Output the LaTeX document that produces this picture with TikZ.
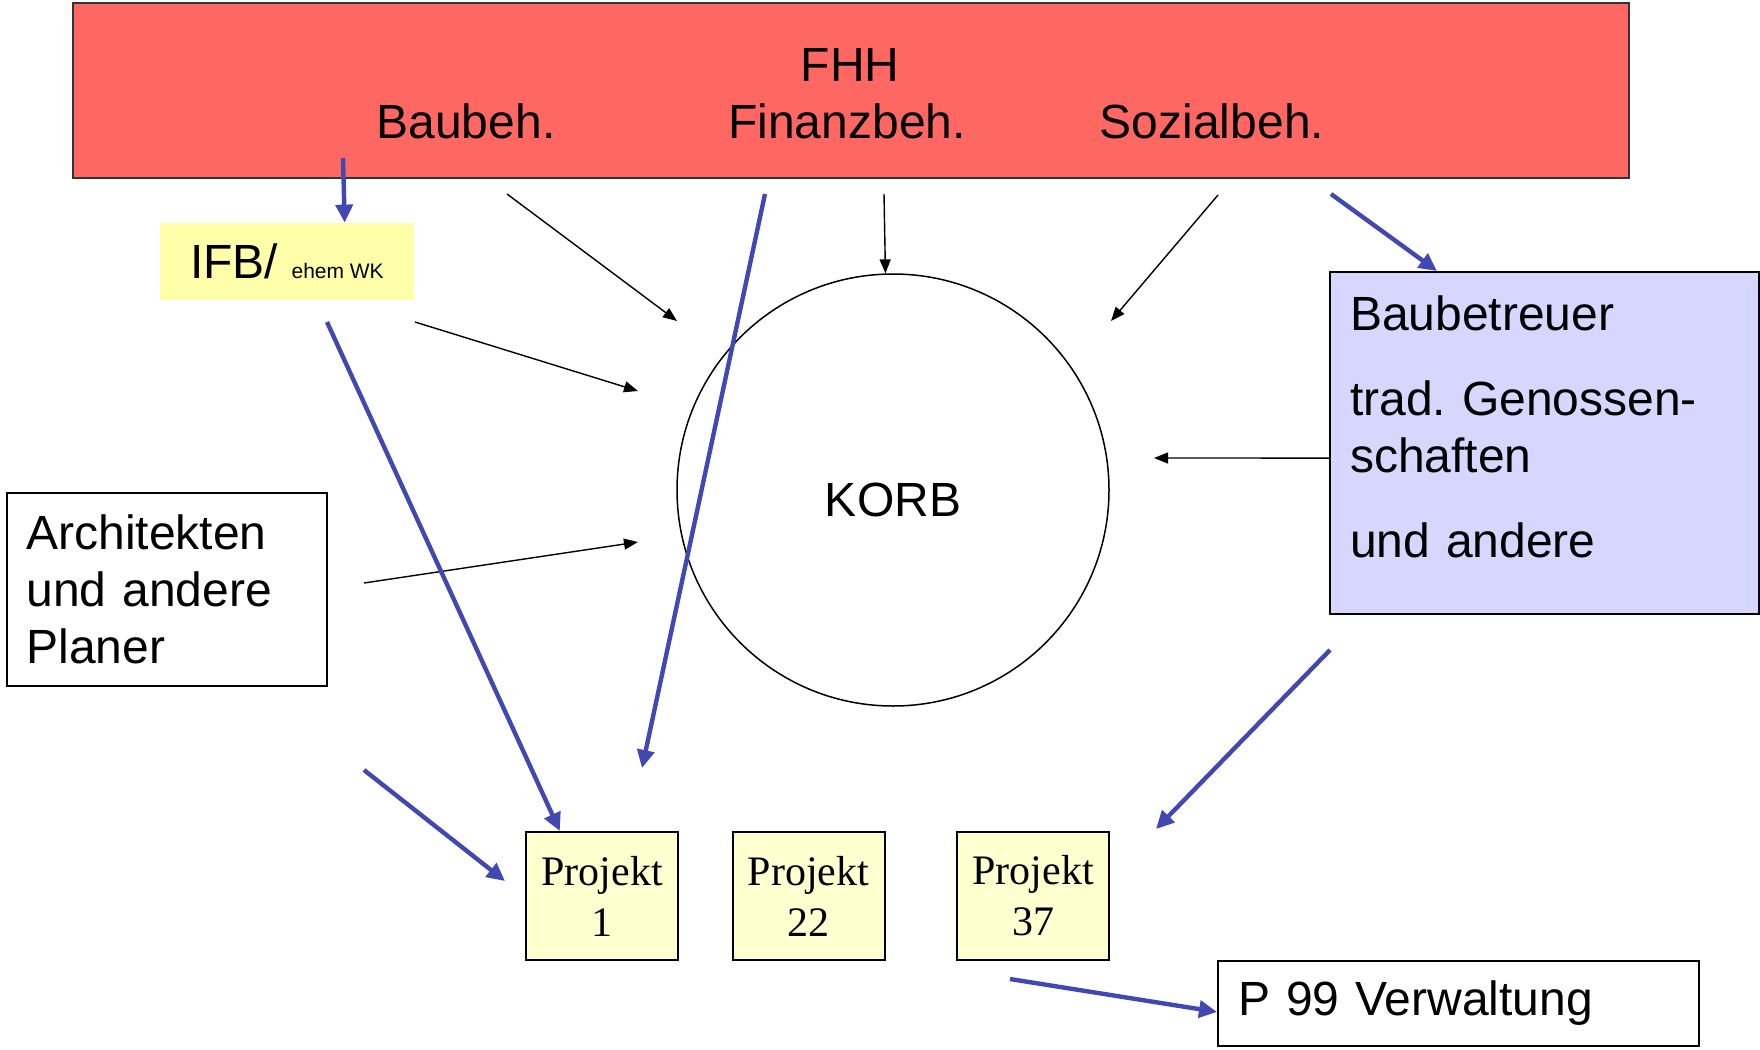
\documentclass[tikz,border=0pt]{standalone}
\usepackage{fontspec}
\setmainfont{Liberation Sans}
\newfontfamily\projfont{Liberation Serif}
\usetikzlibrary{arrows.meta}
\frenchspacing

\definecolor{fhhred}{RGB}{255,104,98}
\definecolor{ifbyellow}{RGB}{255,255,170}
\definecolor{projyellow}{RGB}{255,255,208}
\definecolor{btlilac}{RGB}{214,214,255}
\definecolor{flowblue}{RGB}{66,72,178}

\begin{document}
\begin{tikzpicture}[x=0.5pt, y=-0.5pt,
    every node/.style={font=\fontsize{24}{28.5}\selectfont},
    thinarrow/.style={draw=black, line width=0.7pt, -{Triangle[length=7pt,width=5.5pt]}},
    bluearrow/.style={draw=flowblue, line width=2.2pt, -{Triangle[length=9pt,width=8.5pt]}},
    projbox/.style={draw, line width=1pt, fill=projyellow, minimum width=76pt, minimum height=64pt, inner sep=0pt, align=center, font=\projfont\fontsize{21}{25.5}\selectfont},
    textbox/.style={draw, line width=1pt, align=left, inner xsep=10pt}]
    \useasboundingbox (0,0) rectangle (1760,1049);

    \node[draw=black!80, line width=1pt, fill=fhhred, minimum width=778pt, minimum height=87.5pt] (fhh) at (851,90.5) {};
    \node (fhhtitle) at (850,65) {FHH};
    \node (baubeh) at (466,121) {Baubeh.};
    \node (finanzbeh) at (847,121) {Finanzbeh.};
    \node (sozialbeh) at (1212,121) {Sozialbeh.};

    \node[fill=ifbyellow, minimum width=127pt, minimum height=38.5pt, inner sep=0pt] (ifb) at (287,261.5) {IFB/ {\fontsize{10.5}{12}\selectfont ehem WK}};
    \node[draw, circle, line width=0.75pt, minimum size=216pt, inner sep=0pt] (korb) at (893,490) {\raisebox{-5pt}[\height][\depth]{KORB}};
    \node[textbox, text width=140pt, minimum height=96.5pt] (architekten) at (166.5,589.5) {Architekten\\und andere\\Planer};
    \node[textbox, fill=btlilac, text width=194.5pt, minimum height=171pt] (baubetreuer) at (1544.5,443) {Baubetreuer\\[14pt]trad. Genossen-\\schaften\\[14pt]und andere\\[-12.5pt]\mbox{}};

    \node[projbox] (proj1) at (602,896) {Projekt\\1};
    \node[projbox] (proj22) at (808.5,896) {Projekt\\22};
    \node[projbox] (proj37) at (1033,896) {Projekt\\37};
    \node[textbox, text width=220.5pt, minimum height=42.5pt] (verwaltung) at (1458.5,1003.5) {P 99 Verwaltung};

    \coordinate (baubehout) at (507,194);
    \coordinate (korbnw) at (677,321);
    \coordinate (ifbout) at (415,322);
    \coordinate (korbw) at (638,391);
    \coordinate (finanzout) at (884,194);
    \coordinate (sozialout) at (1218,195);
    \coordinate (korbne) at (1111,321);
    \coordinate (archout) at (364,583);
    \coordinate (korbsw) at (638,542);
    \coordinate (korbe) at (1154,458);

    \coordinate (baubehdown) at (343,158);
    \coordinate (ifbdown) at (327,322);
    \coordinate (finanzdown) at (765,194);
    \coordinate (finanzend) at (642,768);
    \coordinate (planerout) at (364,770);
    \coordinate (proj1w) at (505,881);
    \coordinate (sozialdown) at (1331,194);
    \coordinate (btdown) at (1330,650);
    \coordinate (proj37ne) at (1156,829);
    \coordinate (proj37s) at (1010,979);

    \draw[thinarrow] (baubehout) -- (korbnw);
    \draw[thinarrow] (ifbout) -- (korbw);
    \draw[thinarrow] (finanzout) -- (korb.92);
    \draw[thinarrow] (sozialout) -- (korbne);
    \draw[thinarrow] (archout) -- (korbsw);
    \draw[thinarrow] (baubetreuer.184) -- (korbe);

    \draw[bluearrow] (baubehdown) -- (ifb.34);
    \draw[bluearrow] (ifbdown) -- (proj1.123);
    \draw[bluearrow] (finanzdown) -- (finanzend);
    \draw[bluearrow] (planerout) -- (proj1w);
    \draw[bluearrow] (sozialdown) -- (baubetreuer.122);
    \draw[bluearrow] (btdown) -- (proj37ne);
    \draw[bluearrow] (proj37s) -- (verwaltung.182.5);
\end{tikzpicture}
\end{document}
